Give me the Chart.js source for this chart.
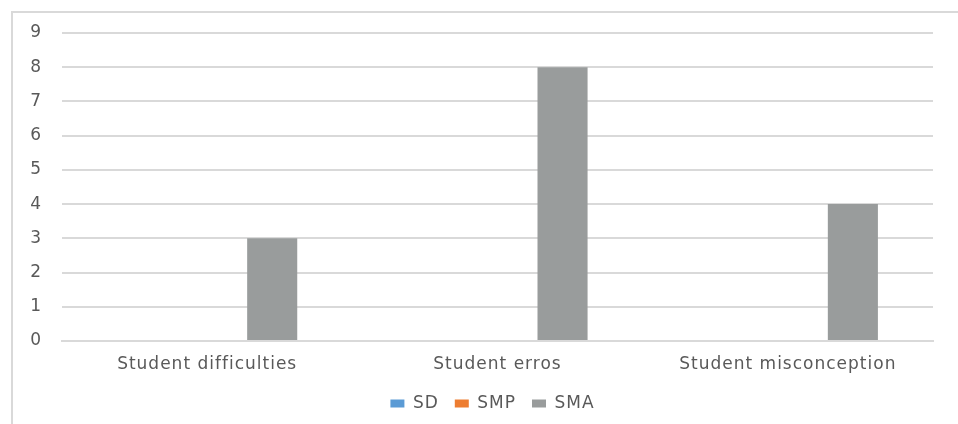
<!DOCTYPE html>
<html>
<head>
<meta charset="utf-8">
<script src="https://cdn.jsdelivr.net/npm/chart.js@4"></script>
<style>
  body { margin: 0; background: #fff; }
  #wrap { position: relative; width: 958px; height: 424px; overflow: hidden; }
  #frame { position: absolute; left: 11px; top: 11px; width: 1000px; height: 500px; border: 2px solid #d9d9d9; box-sizing: border-box; }
  canvas { position: absolute; left: 0; top: 0; }
</style>
</head>
<body>
<div id="wrap">
  <div id="frame"></div>
  <canvas id="chart" width="958" height="424"></canvas>
</div>
<script>
// data
const categories = ['Student difficulties', 'Student erros', 'Student misconception'];
const seriesNames = ['SD', 'SMP', 'SMA'];
const sdValues = [0, 0, 0];
const smpValues = [0, 0, 0];
const smaValues = [3, 8, 4];
const yTicks = [0, 1, 2, 3, 4, 5, 6, 7, 8, 9];

const colors = ['#5b9bd5', '#ed7d31', '#999c9c'];
const textColor = '#595959';
const fontFamily = "'DejaVu Sans', sans-serif";
const fontSize = 17;

// the original text is a bit wider, so space the letters out a little
const spacing = {
    id: 'spacing',
    beforeUpdate(chart) { chart.ctx.letterSpacing = '1px'; },
    beforeDraw(chart) { chart.ctx.letterSpacing = '1px'; },
    afterLayout(chart) {
        // legend sits a bit right of centre in the original
        chart.legend.left += 26;
        chart.legend.right += 26;
    }
};

const ctx = document.getElementById('chart').getContext('2d');
new Chart(ctx, {
    type: 'bar',
    data: {
        labels: categories,
        datasets: [sdValues, smpValues, smaValues].map((vals, i) => ({
            label: seriesNames[i],
            data: vals,
            backgroundColor: colors[i],
            borderWidth: 0,
            categoryPercentage: 0.672,
            barPercentage: 0.77
        }))
    },
    plugins: [spacing],
    options: {
        responsive: false,
        animation: false,
        layout: { padding: { top: 33, right: 25, left: 0, bottom: 2 } },
        scales: {
            x: {
                afterFit: (scale) => { scale.height = 38; },
                grid: { display: false, drawTicks: false },
                border: { display: true, color: '#d9d9d9', width: 2 },
                ticks: { color: textColor, font: { family: fontFamily, size: fontSize }, padding: 13 }
            },
            y: {
                min: 0,
                max: 9,
                afterFit: (scale) => { scale.width = 62; },
                afterBuildTicks: (scale) => { scale.ticks = yTicks.map(v => ({ value: v })); },
                grid: { color: '#d9d9d9', lineWidth: 2, drawTicks: false },
                border: { display: false },
                ticks: { color: textColor, font: { family: fontFamily, size: fontSize }, padding: 20 }
            }
        },
        plugins: {
            tooltip: { enabled: false },
            legend: {
                position: 'bottom',
                labels: {
                    color: textColor,
                    font: { family: fontFamily, size: fontSize },
                    boxWidth: 14,
                    boxHeight: 8,
                    padding: 16
                }
            }
        }
    }
});
</script>
</body>
</html>
